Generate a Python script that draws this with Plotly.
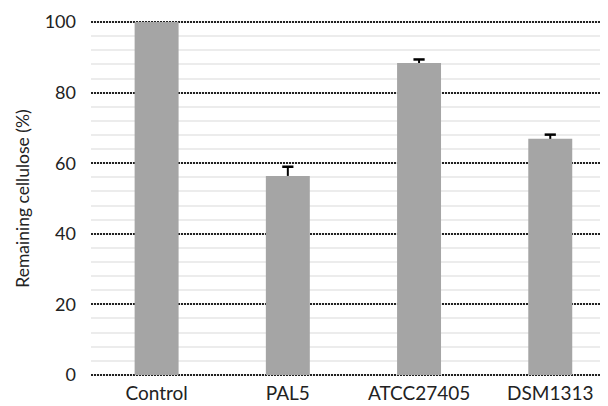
import plotly.graph_objects as go

categories = ["Control", "PAL5", "ATCC27405", "DSM1313"]
remaining = [100, 56.4, 88.4, 66.9]
errors = [0, 2.6, 1.0, 1.2]
y_ticks = [0, 20, 40, 60, 80, 100]

xs = list(range(len(categories)))

fig = go.Figure()
fig.add_trace(go.Bar(
    x=xs,
    y=remaining,
    width=0.335,
    marker=dict(color="#a5a5a5", line=dict(width=0)),
    error_y=dict(type="data", symmetric=False, array=errors,
                 arrayminus=[0] * len(errors), visible=True, color="black",
                 thickness=2, width=0),
))
# caps on top of the upper error bars only (T shape)
cap_x = [x for x, e in zip(xs, errors) if e > 0]
cap_y = [v + e for v, e in zip(remaining, errors) if e > 0]
fig.add_trace(go.Scatter(
    x=cap_x, y=cap_y, mode="markers",
    marker=dict(symbol="line-ew", size=8, line=dict(color="black", width=2.5)),
    hoverinfo="skip",
))

# page body has an 8px margin, so the figure is 600x398 placed at (8, 8)
fig.update_layout(
    width=600, height=398,
    margin=dict(l=83, r=0, t=13, b=30),
    plot_bgcolor="white", paper_bgcolor="white",
    font=dict(family="Lato, Open Sans, sans-serif", color="#222", size=18),
    showlegend=False,
    xaxis=dict(
        range=[-0.5, 3.44],
        tickmode="array",
        tickvals=xs,
        ticktext=categories,
        showgrid=False, zeroline=False, showline=False,
        ticks="", tickfont=dict(size=19), automargin=False,
        ticklabelstandoff=4,
    ),
    yaxis=dict(
        range=[-0.3, 100.3],
        tickmode="array",
        tickvals=y_ticks,
        ticktext=[str(v) for v in y_ticks],
        showgrid=True, gridcolor="#222222", gridwidth=1.5, griddash="1.5px,1.5px",
        zeroline=False, showline=False, ticks="",
        ticklabelstandoff=14,
        tickfont=dict(size=18),
        automargin=False,
        layer="below traces",
        minor=dict(dtick=4, tick0=0, showgrid=True, gridcolor="#ececec",
                   gridwidth=1.5, griddash="solid"),
        title=dict(text="Remaining cellulose (%)", font=dict(size=17.5), standoff=10),
    ),
)

fig.write_html("out.html")
